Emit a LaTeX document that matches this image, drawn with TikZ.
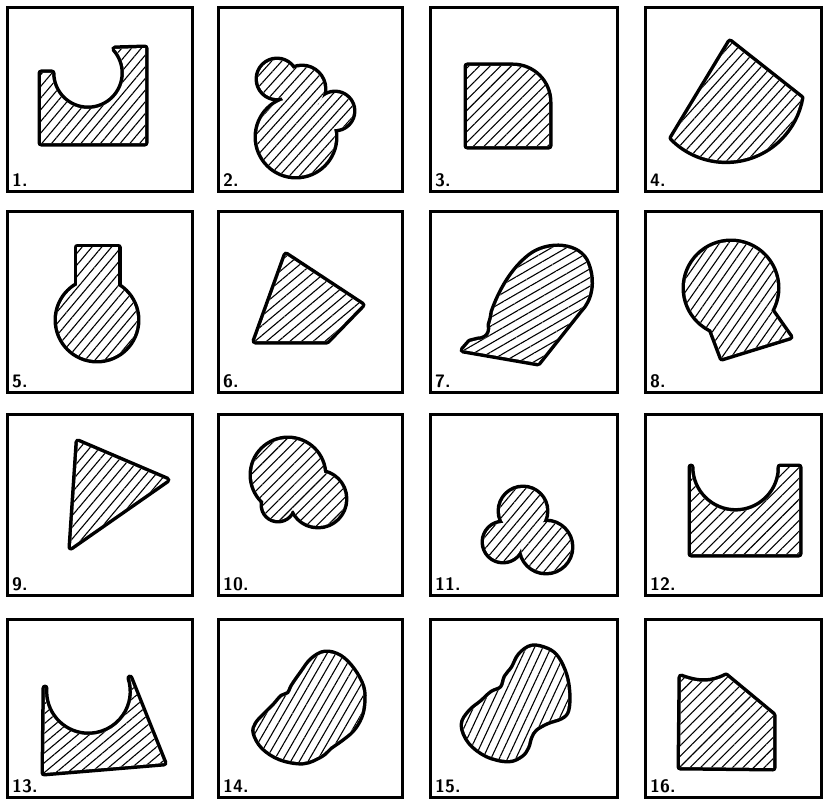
\documentclass[tikz,border=0pt]{standalone}
\usetikzlibrary{patterns.meta}
\tikzset{
  tilebox/.style={draw,line width=3pt},
  rim/.style={draw,line width=7pt,line join=round},
  hatch/.style={pattern={Lines[angle=#1,distance=7.5pt,line width=1.1pt]}},
  numlabel/.style={anchor=south west,inner sep=0pt,font=\fontsize{18}{18}\selectfont\sffamily\bfseries},
}
% outline first, then white and hatching on top of every piece
\newcommand{\hatchshape}[2]{%
  \foreach \piece in {#2}{\draw[rim] \piece;}
  \foreach \piece in {#2}{\fill[white] \piece; \fill[hatch=#1] \piece;}%
}
\begin{document}
\begin{tikzpicture}[x=1pt,y=-1pt]
  \useasboundingbox (0,0) rectangle (823,800);

  % frames and numbers
  \foreach \xl/\xr [count=\c] in {7/192,218/402,430/617,645/821}
    \foreach \yt/\yb [count=\r] in {8/191,211/392,414/595,619/797}{
      \draw[tilebox] (\xl,\yt) rectangle (\xr,\yb);
      \pgfmathtruncatemacro{\n}{(\r-1)*4+\c}
      \node[numlabel] (lab\n) at (\xl+5,\yb-4) {\n.};
    }

  % row 1
  \hatchshape{50}{{(52,73) arc[start angle=180,end angle=-42,radius=36] -- (145,48) -- (145,143) -- (41,143) -- (41,73) -- cycle}}
  \hatchshape{48}{{(296,137) circle[radius=39]},{(277,79) circle[radius=19]},{(302,89) circle[radius=22]},{(335,111) circle[radius=18]}}
  \hatchshape{45}{{(467,66) -- (513,66) arc[start angle=-90,end angle=0,radius=36] -- (549,146) -- (467,146) -- cycle}}
  \hatchshape{48}{{(730,42) -- (672,138) arc[start angle=135.4,end angle=10.1,radius=76] -- cycle}}

  % row 2
  \hatchshape{50}{{(77,247) rectangle (118,300)},{(97,320) circle[radius=40]}}
  \hatchshape{40}{{(286,255) -- (362,305) -- (327,341) -- (255,341) -- cycle}}
  \hatchshape{30}{{(538,363) -- (463,350) -- (470,342) -- (478,340) .. controls (486,340) and (492,334) .. (490,325) -- (492,318) -- (493,312) .. controls (500,292) and (512,270) .. (530,256) .. controls (548,242) and (580,244) .. (587,264) .. controls (594,282) and (590,300) .. (580,310) -- cycle}}
  \hatchshape{55}{{(731,288) circle[radius=46]},{(702,305) -- (722,358) -- (790,337) -- (764,300) -- cycle}}

  % row 3
  \hatchshape{50}{{(78,442) -- (167,480) -- (71,547) -- cycle}}
  \hatchshape{45}{{(288,475) circle[radius=36]},{(318,499) circle[radius=27]},{(278,505) circle[radius=15]}}
  \hatchshape{50}{{(523,511) circle[radius=23]},{(503,542) circle[radius=19]},{(546,547) circle[radius=25]},{(523,535) circle[radius=6]}}
  \hatchshape{45}{{(691,467) arc[start angle=180,end angle=6,radius=44.6] -- (780,467) -- (799,467) -- (799,554) -- (691,554) -- cycle}}

  % row 4
  \hatchshape{40}{{(45,688) arc[start angle=184.5,end angle=-17.9,radius=43.6] -- (164,763) -- (44,773) -- cycle}}
  \hatchshape{60}{{plot[smooth cycle,tension=0.6] coordinates {(325,653) (340,657) (353,670) (362,687) (363,703) (360,717) (352,730) (340,740) (330,747) (321,755) (303,762) (280,758) (263,747) (255,733) (257,724) (265,715) (275,705) (282,697) (289,694) (293,686) (302,673) (312,660)}}}
  \hatchshape{65}{{plot[smooth cycle,tension=0.6] coordinates {(532,647) (547,650) (557,658) (565,675) (568,693) (567,710) (561,717) (547,722) (535,729) (530,737) (527,747) (521,755) (508,760) (487,755) (470,742) (463,725) (470,712) (482,702) (492,693) (502,688) (506,677) (513,668) (520,655)}}}
  \hatchshape{45}{{(681,677) .. controls (700,684) and (712,683) .. (726,676) -- (773,715) -- (773,768) -- (680,767) -- cycle}}
\end{tikzpicture}
\end{document}
